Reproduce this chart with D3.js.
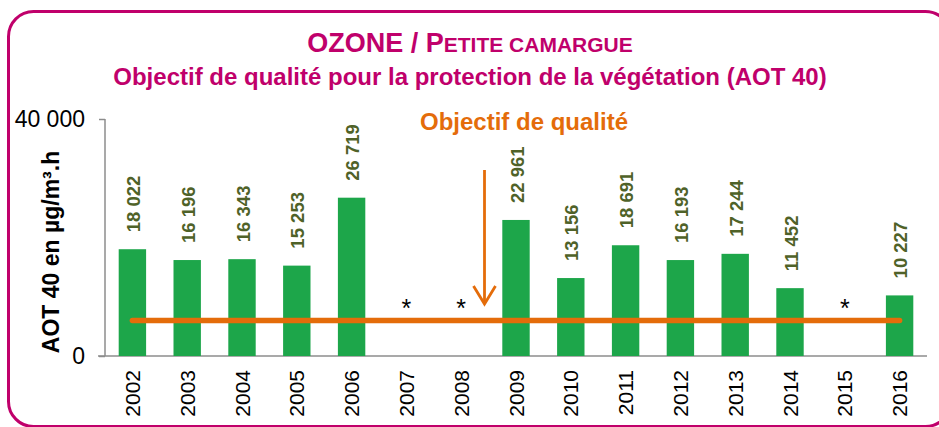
<!DOCTYPE html>
<html><head><meta charset="utf-8">
<script src="https://cdn.jsdelivr.net/npm/d3@7"></script>
<style>html,body{margin:0;padding:0;background:#fff;} svg{display:block;font-family:Arial,"Liberation Sans",sans-serif;}</style>
</head><body>
<svg id="c" width="939" height="427"></svg>
<script>
const years = ["2002","2003","2004","2005","2006","2007","2008","2009","2010","2011","2012","2013","2014","2015","2016"];
const aot40 = [18022,16196,16343,15253,26719,null,null,22961,13156,18691,16193,17244,11452,null,10227];
const yTicks = [0, 40000];
const objective = 6000;
const missingMarkerLevel = 9000;
const titleMain = ["OZONE / P", "ETITE CAMARGUE"];
const subtitle = "Objectif de qualité pour la protection de la végétation (AOT 40)";
const objectiveLabel = "Objectif de qualité";
const yTitle = "AOT 40 en µg/m³.h";

const svg = d3.select("#c");
const magenta = "#C0006B", orange = "#E46C0A", green = "#1DA64A", olive = "#4F6228", gray = "#8C8C8C";
const fr = d3.formatLocale({decimal:",", thousands:"\u00a0", grouping:[3], currency:["","€"]});
const fmt = fr.format(",d");

// frame
svg.append("rect").attr("x",8.5).attr("y",11.5).attr("width",942).attr("height",415)
  .attr("rx",25).attr("fill","none").attr("stroke",magenta).attr("stroke-width",3);

// titles
const t = svg.append("text").attr("x",470).attr("y",51.5).attr("text-anchor","middle")
  .attr("fill",magenta).attr("font-weight","bold").attr("font-size",27);
t.append("tspan").text(titleMain[0]);
t.append("tspan").attr("font-size",21).text(titleMain[1]);
svg.append("text").attr("x",470).attr("y",85).attr("text-anchor","middle")
  .attr("fill",magenta).attr("font-weight","bold").attr("font-size",24).text(subtitle);

const x = d3.scaleBand().domain(years).range([105,927]).paddingInner(0.5).paddingOuter(0.25);
const y = d3.scaleLinear().domain([0,40000]).range([356,119]);

// axes
const ya = svg.append("g").attr("transform","translate(105,0)")
  .call(d3.axisLeft(y).tickValues(yTicks).tickSize(6).tickFormat(fmt));
ya.select(".domain").remove();
ya.selectAll(".tick line").attr("stroke",gray).attr("stroke-width",1.5);
ya.selectAll(".tick text").attr("font-size",23).attr("fill","#000").attr("x",-20).attr("font-family","Arial,'Liberation Sans',sans-serif");
svg.append("line").attr("x1",105).attr("x2",105).attr("y1",y(40000)).attr("y2",y(0))
  .attr("stroke",gray).attr("stroke-width",1.5);
svg.append("line").attr("x1",98).attr("x2",927).attr("y1",y(0)).attr("y2",y(0))
  .attr("stroke",gray).attr("stroke-width",1.5);

const xa = svg.append("g").attr("transform",`translate(0,${y(0)})`)
  .call(d3.axisBottom(x).tickSize(0));
xa.select(".domain").remove();
xa.selectAll(".tick text").attr("font-size",21).attr("fill","#000")
  .attr("font-family","Arial,'Liberation Sans',sans-serif")
  .attr("transform","rotate(-90)").attr("text-anchor","end")
  .attr("x",-14).attr("y",0).attr("dy","0.36em");

// y title
svg.append("text").attr("transform",`translate(59,252) rotate(-90)`).attr("text-anchor","middle")
  .attr("font-weight","bold").attr("font-size",23).attr("fill","#000").text(yTitle);

const data = years.map((yr,i)=>({yr, v:aot40[i]}));

// bars
svg.append("g").selectAll("rect").data(data.filter(d=>d.v!=null)).join("rect")
  .attr("x",d=>x(d.yr)).attr("width",x.bandwidth())
  .attr("y",d=>y(d.v)).attr("height",d=>y(0)-y(d.v)).attr("fill",green);

// value labels
svg.append("g").selectAll("text").data(data.filter(d=>d.v!=null)).join("text")
  .attr("transform",d=>`translate(${x(d.yr)+x.bandwidth()/2+1},${y(d.v)-17}) rotate(-90)`)
  .attr("dy","0.36em").attr("font-size",18.5).attr("font-weight","bold").attr("fill",olive)
  .text(d=>fmt(d.v));

// missing markers
svg.append("g").selectAll("text").data(data.filter(d=>d.v==null)).join("text")
  .attr("x",d=>x(d.yr)+x.bandwidth()/2).attr("y",y(missingMarkerLevel)+14)
  .attr("text-anchor","middle").attr("font-size",25).attr("fill","#000").text("*");

// objective line
svg.append("line").attr("x1",x(years[0])+x.bandwidth()/2).attr("x2",x(years[years.length-1])+x.bandwidth()/2)
  .attr("y1",y(objective)).attr("y2",y(objective)).attr("stroke",orange).attr("stroke-width",5.5)
  .attr("stroke-linecap","round");

// objective annotation
svg.append("text").attr("x",524).attr("y",130).attr("text-anchor","middle")
  .attr("fill",orange).attr("font-weight","bold").attr("font-size",24).text(objectiveLabel);
const ax = 484.5, ay0 = 170, ay1 = 304;
svg.append("line").attr("x1",ax).attr("x2",ax).attr("y1",ay0).attr("y2",ay1-1)
  .attr("stroke",orange).attr("stroke-width",2.8);
svg.append("path").attr("d",`M${ax-11},${ay1-18} L${ax},${ay1} L${ax+11},${ay1-18}`)
  .attr("fill","none").attr("stroke",orange).attr("stroke-width",2.8);
</script>
</body></html>
